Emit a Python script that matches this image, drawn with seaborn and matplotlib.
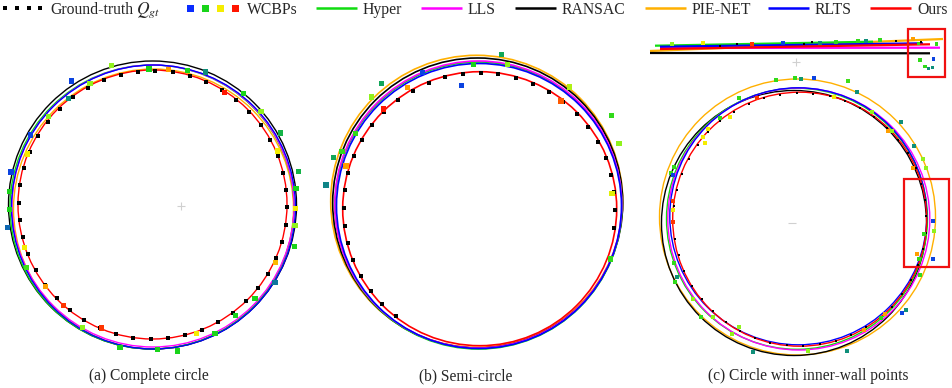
import numpy as np
import matplotlib
matplotlib.use("Agg")
import matplotlib.pyplot as plt
import seaborn as sns
from matplotlib.patches import Circle, Rectangle
from matplotlib.colors import LinearSegmentedColormap

sns.set_theme(style="white")
plt.rcParams['font.family'] = ['Liberation Serif', 'DejaVu Serif']
plt.rcParams['mathtext.fontset'] = 'stix'

# ---------------- data ----------------
methods = ["PIE-NET", "RANSAC", "Hyper", "LLS", "RLTS", "Ours"]
method_colors = {"Hyper": "#10dc10", "LLS": "#ff00ff", "RANSAC": "#000000",
                 "PIE-NET": "#ffb000", "RLTS": "#0000ff", "Ours": "#ff0000"}
legend_methods = ["Hyper", "LLS", "RANSAC", "PIE-NET", "RLTS", "Ours"]

# fitted circles (centre x, centre y, radius), same order as `methods`
a_cx = [0.5, -0.5, -1.0, 0.0, 0.5, -0.5]
a_cy = [-4.0, 0.0, -2.0, -1.0, -2.0, 0.5]
a_r = [140.0, 144.0, 142.0, 141.0, 142.0, 134.5]

b_cx = [-2.8, -1.8, -1.0, -1.2, -0.5, 0.2]
b_cy = [7.7, 6.0, 3.5, 4.5, 3.0, 0.3]
b_r = [146.0, 145.0, 143.5, 143.5, 142.5, 137.0]

c_cx = [-2.5, -6.0, -3.0, -1.2, -1.7, -0.3]
c_cy = [2.5, -3.5, 0.7, 0.5, 3.2, 0.3]
c_r = [138.0, 132.5, 130.5, 131.0, 128.5, 127.0]

# ground-truth points (radius, angles in degrees)
a_gt_r = 134.0
a_gt_deg = [-1, 6.5, 14, 21.5, 29, 36.5, 44, 51.5, 59, 66.5, 74, 81.5, 89, 96.5,
            104, 111.5, 119, 126.5, 134, 141.5, 149, 156.5, 164, 171.5, 179,
            186.5, 194, 201.5, 209, 216.5, 224, 231.5, 239, 246.5, 254, 261.5,
            269, 276.5, 284, 291.5, 299, 306.5, 314, 321.5, 329, 336.5, 344, 351.5]
b_gt_r = 136.0
b_gt_deg = [-8, -0.5, 7, 14.5, 22, 29.5, 37, 44.5, 52, 59.5, 67, 74.5, 82, 89.5,
            97, 104.5, 112, 119.5, 127, 134.5, 142, 149.5, 157, 164.5, 172,
            179.5, 187, 194.5, 202, 209.5, 217, 224.5, 232]
c_gt_r = 126.5
c_gt_deg = [1.5, 9, 16.5, 24, 31.5, 39, 46.5, 54, 61.5, 69, 76.5, 84, 91.5, 99,
            106.5, 114, 121.5, 129, 136.5, 144, 151.5, 159, 166.5, 174, 181.5,
            189, 196.5, 204, 211.5, 219, 226.5, 234, 241.5, 249, 256.5, 264,
            271.5, 279, 286.5, 294, 301.5, 309, 316.5, 324, 331.5, 339, 346.5, 354]

# weighted candidate boundary points (x, y, weight 0=blue .. 1=red)
a_wx = [-41.3, -81.3, -4, 15.3, 34.7, 52.7, -63, -84.7, 71.3, 90.3, 108, -104.7,
        -122.3, 127.7, -125.7, 124.7, -142, 145.3, -143.7, 143, -143.7, 142.7,
        -145.7, 142, 141.3, -128.7, -126.3, 122.3, 122, 102, -107.7, -89.7, 82.7,
        -70.3, -51.7, 62, 43.7, -33, 4.7, 24.7]
a_wy = [139.3, 124, 136, 135.7, 134.3, 133, 121.7, 106.3, 112.3, 111.3, 93.3, 88.3,
        70, 72, 51, 54, 33, 33.7, 13.3, 16.3, -4.3, -3.7, -22.3, -20.7, -41.7,
        -42.7, -62.3, -57.7, -77.3, -93.3, -81.7, -100.7, -110.7, -122.3, -123,
        -128.3, -128.3, -142.7, -144.3, -146]
a_ww = [0.5, 0.05, 0.35, 0.8, 0.35, 0.2, 0.5, 0.2, 1.0, 0.35, 0.5, 0.5, 0.05, 0.28,
        0.65, 0.65, 0.05, 0.28, 0.35, 0.35, 0.35, 0.65, 0.12, 0.5, 0.35, 0.65,
        0.4, 0.75, 0.15, 0.35, 0.8, 0.95, 0.35, 0.5, 0.95, 0.35, 0.65, 0.35, 0.35, 0.35]

b_wx = [22.2, -5.8, 28.2, -57.2, -18.2, -97.8, -71.8, -107.8, 89.8, -96.2, 81.5,
        -123.8, 132.2, 139.5, -146.2, -137.5, -133.5, -153.5, 132.5, 131.2]
b_wy = [154.3, 144.7, 144.7, 136.7, 123.7, 125.3, 121.7, 112, 122, 100, 108, 75.7,
        93.3, 65.7, 51.7, 57.3, 43, 24, 15.7, -50]
b_ww = [0.25, 0.35, 0.5, 0.05, 0.05, 0.25, 0.8, 0.5, 0.55, 1.0, 0.9, 0.38, 0.38,
        0.5, 0.25, 0.38, 0.8, 0.18, 0.62, 0.38]

c_wx = [-24.3, -5, 1, 14.3, 48.3, 57.3, -61, -42.7, 34.3, 71.7, -80, -70, 101, 88.3,
        91.7, -91.7, -96.7, -95, 114, 122.7, 113.3, 126, -126, -129.3, -126.7,
        -126.7, -126.7, -126.7, 133.3, 134.3, 124, 117.3, 119.3, 133.3, 120,
        -125.7, -123.3, -125, -107.3, -86.7, -99, 101.7, 106, 85, 81, 64.3, -61,
        -68.3, -46.7, 8.3, 46.7]
c_wy = [139.5, 141.2, 140.5, 141.2, 138.5, 127.2, 121.2, 121.2, 122.8, 107.2, 101.2,
        102.2, 97.2, 88.5, 88.5, 90.2, 82.2, 76.2, 73.5, 60.5, 51.8, 51.8, 52.8,
        46.2, 44.5, 18.8, 9.5, -2.2, -1.5, -11.5, -14.5, -34.5, -39.8, -39.5, -55.5,
        -43.8, -57.8, -62.2, -79.8, -97.8, -97.8, -93.2, -90.5, -94.5, -98.2,
        -110.5, -107.2, -114.5, -132.8, -131.2, -131.5]
c_ww = [0.38, 0.38, 0.22, 0.05, 0.4, 0.2, 0.38, 0.95, 0.65, 0.5, 0.38, 0.65, 0.2,
        0.8, 0.5, 0.65, 0.65, 0.65, 0.2, 0.5, 0.8, 0.5, 0.38, 0.38, 0.05, 0.95,
        0.65, 0.95, 0.05, 0.5, 0.38, 0.8, 0.38, 0.05, 0.38, 0.38, 0.2, 0.38, 0.5,
        0.5, 0.38, 0.05, 0.2, 0.8, 0.38, 0.8, 0.5, 0.5, 0.2, 0.5, 0.2]

# top view inset of panel (c): fitted lines and points
inset_methods = ["PIE-NET", "RANSAC", "Hyper", "LLS", "RLTS", "Ours"]
inset_x0 = [-150, -150, -145, -140, -140, -140]
inset_x1 = [143, 130, 73, 140, 123, 130]
inset_y0 = [168.5, 166.5, 173.8, 171.5, 172.8, 170.5]
inset_y1 = [180.5, 166.2, 177.8, 171.8, 176.2, 175.2]
inset_px = [-128, -97, -80, -63, -48, -17, 4, 12, 20, 36, 58, 66, 80, 96, 113, 121,
            120, 133.3, 125, 128.3, 132.7, 118.3, 136.7]
inset_py = [175.5, 176.5, 173.8, 175.5, 175.5, 176.5, 175.5, 177.5, 176.5, 177.5,
            178.5, 178.5, 179.5, 178.5, 180.5, 177.5, 159.5, 160.5, 152.8, 151.2,
            151.8, 176.2, 175.5]
inset_pw = [0.5, 0.65, -1, -1, 0.95, 0.05, -1, -1, 0.2, 0.38, 0.38, 0.2, 0.38, -1,
            0.8, -1, 0.38, 0.05, 0.38, 0.2, 0.2, 0.38, 0.38]

captions = ["(a) Complete circle", "(b) Semi-circle", "(c) Circle with inner-wall points"]

# ---------------- style ----------------
W, H = 953, 388
fig = plt.figure(figsize=(W / 100, H / 100), dpi=100)
cmap = LinearSegmentedColormap.from_list(
    "wcbp", [(0, "#0a2cff"), (0.2, "#0f8f7a"), (0.35, "#19d419"), (0.5, "#8ff21d"),
             (0.65, "#f5ee00"), (0.8, "#ff9f00"), (1, "#ff1500")])


def panel_axes(x0, x1, y0, y1, cx, cy):
    ax = fig.add_axes([x0 / W, 1 - y1 / H, (x1 - x0) / W, (y1 - y0) / H])
    ax.set_xlim(x0 - cx, x1 - cx)
    ax.set_ylim(cy - y1, cy - y0)
    ax.axis("off")
    return ax


def draw_panel(ax, cxs, cys, rs, gt_r, gt_deg, wx, wy, ww, lw, ws, gs):
    for m, cx, cy, r in zip(methods, cxs, cys, rs):
        ax.add_patch(Circle((cx, cy), r, fill=False, ec=method_colors[m], lw=lw, zorder=2))
    th = np.deg2rad(gt_deg)
    sns.scatterplot(x=gt_r * np.cos(th), y=gt_r * np.sin(th), color="black", marker="s",
                    s=gs, linewidth=0, ax=ax, zorder=3, legend=False)
    sns.scatterplot(x=wx, y=wy, hue=ww, palette=cmap, hue_norm=(0, 1), marker="s",
                    s=ws, linewidth=0, ax=ax, zorder=4, legend=False)


ax_a = panel_axes(0, 318, 22, 366, 153, 205)
draw_panel(ax_a, a_cx, a_cy, a_r, a_gt_r, a_gt_deg, a_wx, a_wy, a_ww, 1.0, 14, 5)
ax_a.scatter([28], [-1], marker="+", s=40, color="#d0d0d0", lw=0.8, zorder=1)

ax_b = panel_axes(318, 640, 22, 366, 479.5, 209)
draw_panel(ax_b, b_cx, b_cy, b_r, b_gt_r, b_gt_deg, b_wx, b_wy, b_ww, 1.2, 14, 5)

ax_c = panel_axes(640, 953, 22, 366, 800, 219.5)
draw_panel(ax_c, c_cx, c_cy, c_r, c_gt_r, c_gt_deg, c_wx, c_wy, c_ww, 1.0, 10, 4)
for m, x0, x1, y0, y1 in zip(inset_methods, inset_x0, inset_x1, inset_y0, inset_y1):
    ax_c.plot([x0, x1], [y0, y1], color=method_colors[m], lw=1.6, zorder=2,
              solid_capstyle="butt")
ipx = np.array(inset_px); ipy = np.array(inset_py); ipw = np.array(inset_pw)
blk = ipw < 0
ax_c.scatter(ipx[blk], ipy[blk], marker="s", s=3, color="black", lw=0, zorder=4)
sns.scatterplot(x=ipx[~blk], y=ipy[~blk], hue=ipw[~blk], palette=cmap, hue_norm=(0, 1),
                marker="s", s=6, linewidth=0, ax=ax_c, zorder=4, legend=False)
ax_c.scatter([-4], [157.2], marker="+", s=40, color="#d0d0d0", lw=0.8, zorder=1)
ax_c.scatter([-7.7], [-3.8], marker="_", s=40, color="#d0d0d0", lw=0.8, zorder=1)
ax_c.add_patch(Rectangle((104.3, -47.2), 44.7, 87.7, fill=False, ec="#f01010", lw=1.6, zorder=5))
ax_c.add_patch(Rectangle((107.7, 142.2), 37.3, 48.3, fill=False, ec="#f01010", lw=1.6, zorder=5))

# ---------------- legend & captions (overlay in pixel units) ----------------
lx = fig.add_axes([0, 0, 1, 1], zorder=10)
lx.set_xlim(0, W)
lx.set_ylim(H, 0)
lx.axis("off")
lx.patch.set_alpha(0)
fs = 11.3
ly = 8.3
base = 13.5
lx.scatter([5.5, 17.5, 29, 40], [ly] * 4, marker="s", s=7, color="black", lw=0)
lx.text(50, base, "Ground-truth", fontsize=fs, va="baseline", ha="left")
lx.text(136, base, "$Q_{gt}$", fontsize=fs + 1.2, va="baseline", ha="left")
lx.scatter([190.5, 205.5, 220.5, 235.5], [ly] * 4, marker="s", s=26,
           c=[cmap(0.0), cmap(0.35), cmap(0.65), cmap(1.0)], lw=0)
lx.text(247, base, "WCBPs", fontsize=fs, va="baseline", ha="left")
line_starts = [316, 421, 515, 645, 768, 870]
for m, xs in zip(legend_methods, line_starts):
    lx.plot([xs, xs + 41], [ly, ly], color=method_colors[m], lw=1.8, solid_capstyle="butt")
    lx.text(xs + 47, base, m, fontsize=fs, va="baseline", ha="left")

for cap, xc in zip(captions, [148.5, 465.5, 808]):
    lx.text(xc, 380, cap, fontsize=11.2, va="baseline", ha="center")

fig.savefig("out.png", dpi=100)
